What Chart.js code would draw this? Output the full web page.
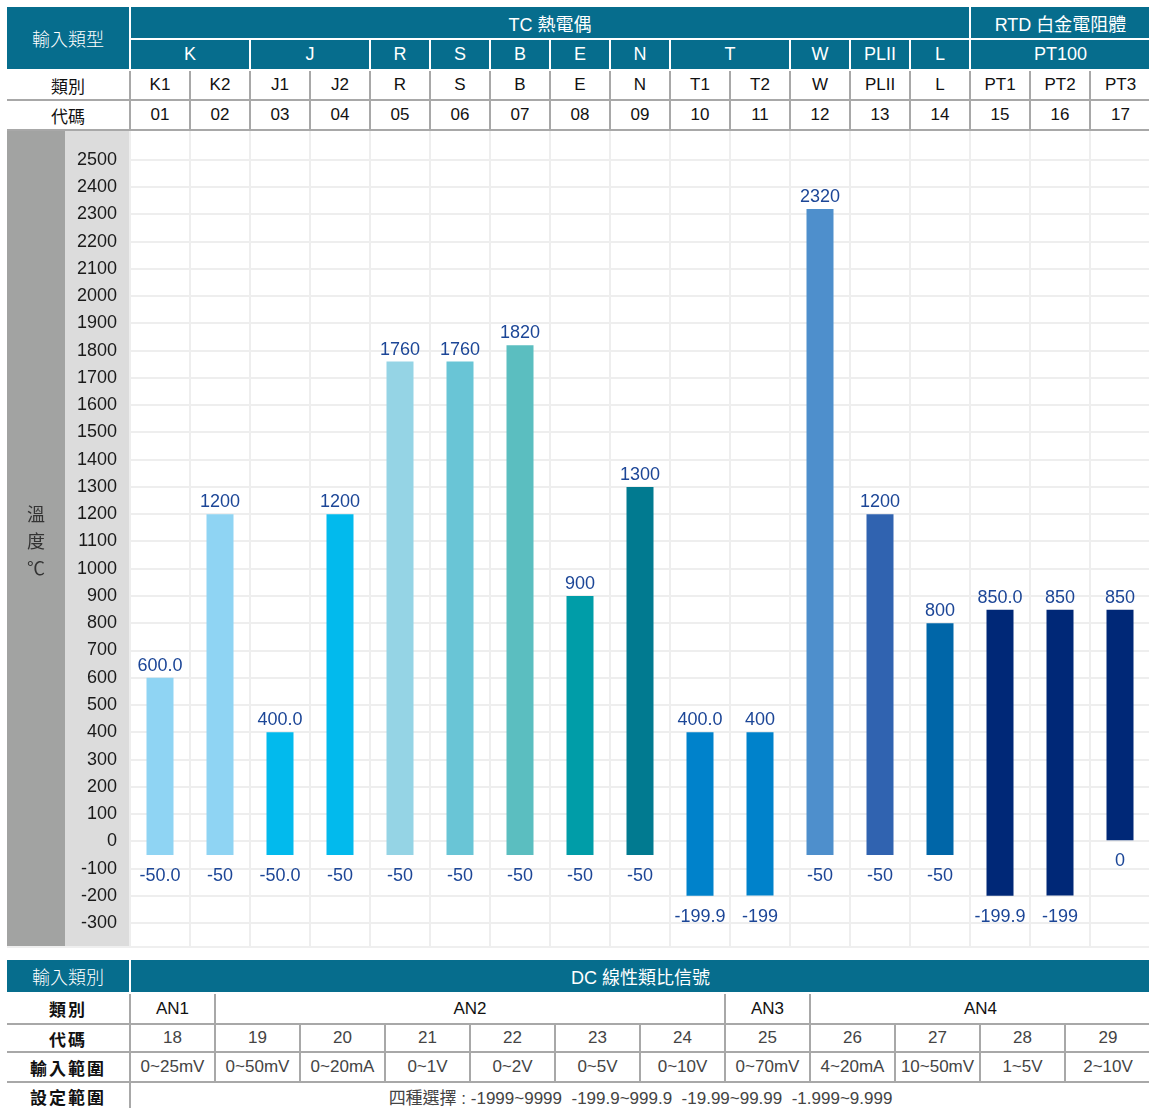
<!DOCTYPE html>
<html>
<head>
<meta charset="utf-8">
<script src="https://cdn.jsdelivr.net/npm/chart.js@4.4.1/dist/chart.umd.min.js"></script>
<style>
  body { margin: 0; background: #fff; font-family: "Liberation Sans", Arial, "Noto Sans CJK TC", sans-serif; }
  table { position: absolute; left: 7px; width: 1143px; border-collapse: collapse; table-layout: fixed; }
  td, th { padding: 0; text-align: center; font-weight: normal; white-space: nowrap; overflow: hidden; }
  .hd { background: #066d8d; color: #fff; border: 2px solid #fff; font-size: 18px; }
  .bd { border: 2px solid #a8a8a8; font-size: 17px; color: #111; }
  #top { top: 7px; }
  #top .hd { border-top: none; }
  #bottom { top: 960px; }
  #bottom .bd.gray { color: #444; }
  #bottom .lbl { font-weight: bold; color: #111; letter-spacing: 2px; }
  .thin { font-weight: 300; }
  #chartBox { position: absolute; left: 7px; top: 131px; width: 1143px; height: 815px; }
  #ytitle { position: absolute; left: 7px; width: 58px; top: 500px; text-align: center; font-size: 18px; line-height: 27px; color: #333; font-family: "Noto Sans CJK TC", sans-serif; }
  #sep { position: absolute; left: 7px; top: 946px; width: 1143px; height: 2px; background: #efefef; }
</style>
</head>
<body>
<table id="top">
  <colgroup><col style="width:123px"></colgroup>
  <tr style="height:32px">
    <th class="hd thin" rowspan="2" style="border-left:none">輸入類型</th>
    <th class="hd" colspan="14">TC 熱電偶</th>
    <th class="hd" colspan="3" style="border-right:none">RTD 白金電阻體</th>
  </tr>
  <tr style="height:31px" id="groupRow"></tr>
  <tr style="height:30px" id="typeRow"><td class="bd" style="border-left:none">類別</td></tr>
  <tr style="height:30px" id="codeRow"><td class="bd" style="border-left:none">代碼</td></tr>
</table>

<div id="chartBox"><canvas id="myChart"></canvas></div>
<div id="ytitle">溫<br>度<br>℃</div>
<div id="sep"></div>

<table id="bottom">
  <colgroup><col style="width:123px"></colgroup>
  <tr style="height:33px">
    <th class="hd thin" style="border-left:none;border-top:none">輸入類別</th>
    <th class="hd" colspan="12" style="border-right:none;border-top:none">DC 線性類比信號</th>
  </tr>
  <tr style="height:31px" id="dcTypeRow"><td class="bd lbl" style="border-left:none">類別</td></tr>
  <tr style="height:28px" id="dcCodeRow"><td class="bd lbl" style="border-left:none">代碼</td></tr>
  <tr style="height:30px" id="dcRangeRow"><td class="bd lbl" style="border-left:none">輸入範圍</td></tr>
  <tr style="height:28px">
    <td class="bd lbl" style="border-left:none;border-bottom:none">設定範圍</td>
    <td class="bd gray" colspan="12" style="border-right:none;border-bottom:none">四種選擇 : -1999~9999&nbsp;&nbsp;-199.9~999.9&nbsp;&nbsp;-19.99~99.99&nbsp;&nbsp;-1.999~9.999</td>
  </tr>
</table>

<script>
// thermocouple / RTD inputs
const groups = [["K", 2], ["J", 2], ["R", 1], ["S", 1], ["B", 1], ["E", 1], ["N", 1], ["T", 2], ["W", 1], ["PLII", 1], ["L", 1], ["PT100", 3]];
const categories = ["K1", "K2", "J1", "J2", "R", "S", "B", "E", "N", "T1", "T2", "W", "PLII", "L", "PT1", "PT2", "PT3"];
const codes = ["01", "02", "03", "04", "05", "06", "07", "08", "09", "10", "11", "12", "13", "14", "15", "16", "17"];
const minValues = [-50, -50, -50, -50, -50, -50, -50, -50, -50, -199.9, -199, -50, -50, -50, -199.9, -199, 0];
const maxValues = [600, 1200, 400, 1200, 1760, 1760, 1820, 900, 1300, 400, 400, 2320, 1200, 800, 850, 850, 850];
const minLabels = ["-50.0", "-50", "-50.0", "-50", "-50", "-50", "-50", "-50", "-50", "-199.9", "-199", "-50", "-50", "-50", "-199.9", "-199", "0"];
const maxLabels = ["600.0", "1200", "400.0", "1200", "1760", "1760", "1820", "900", "1300", "400.0", "400", "2320", "1200", "800", "850.0", "850", "850"];
const barColors = ["#8fd4f3", "#8fd4f3", "#02baed", "#02baed", "#95d4e5", "#69c5d6", "#5bbec0", "#009da8", "#017a90",
  "#0082cb", "#0082cb", "#4e8fcc", "#3063b0", "#0066a8", "#002877", "#002877", "#002877"];
const yTicks = [-300, -200, -100, 0, 100, 200, 300, 400, 500, 600, 700, 800, 900, 1000, 1100, 1200, 1300,
  1400, 1500, 1600, 1700, 1800, 1900, 2000, 2100, 2200, 2300, 2400, 2500];

// DC linear inputs
const dcGroups = [["AN1", 1], ["AN2", 6], ["AN3", 1], ["AN4", 4]];
const dcCodes = ["18", "19", "20", "21", "22", "23", "24", "25", "26", "27", "28", "29"];
const dcRanges = ["0~25mV", "0~50mV", "0~20mA", "0~1V", "0~2V", "0~5V", "0~10V", "0~70mV", "4~20mA", "10~50mV", "1~5V", "2~10V"];

function addCells(rowId, items, cls, lastNoRight) {
  const row = document.getElementById(rowId);
  items.forEach(function (it, i) {
    const td = document.createElement(cls.indexOf("hd") >= 0 ? "th" : "td");
    td.className = cls;
    if (Array.isArray(it)) { td.textContent = it[0]; td.colSpan = it[1]; } else { td.textContent = it; }
    if (lastNoRight && i === items.length - 1) td.style.borderRight = "none";
    row.appendChild(td);
  });
}
addCells("groupRow", groups, "hd", true);
addCells("typeRow", categories, "bd", true);
addCells("codeRow", codes, "bd", true);
addCells("dcTypeRow", dcGroups, "bd", true);
addCells("dcCodeRow", dcCodes, "bd gray", true);
addCells("dcRangeRow", dcRanges, "bd gray", true);

const bands = {
  id: "bands",
  beforeDraw: function (chart) {
    const c = chart.ctx;
    const a = chart.chartArea;
    c.save();
    c.fillStyle = "#a2a3a2";
    c.fillRect(0, 0, 58, chart.height);
    c.fillStyle = "#dcdcdc";
    c.fillRect(58, 0, a.left - 58, chart.height);
    c.restore();
  }
};

const endLabels = {
  id: "endLabels",
  afterDatasetsDraw: function (chart) {
    const c = chart.ctx;
    const meta = chart.getDatasetMeta(0);
    c.save();
    c.font = "18px 'Liberation Sans', Arial, sans-serif";
    c.fillStyle = "#1c4697";
    c.textAlign = "center";
    meta.data.forEach(function (bar, i) {
      const top = Math.min(bar.y, bar.base);
      const bottom = Math.max(bar.y, bar.base);
      c.textBaseline = "alphabetic";
      c.fillText(maxLabels[i], bar.x, top - 7);
      c.textBaseline = "top";
      c.fillText(minLabels[i], bar.x, bottom + 12);
    });
    c.restore();
  }
};

function noPad(s) {
  s.paddingTop = 0;
  s.paddingBottom = 0;
  s.paddingLeft = 0;
  s.paddingRight = 0;
}

const ctx = document.getElementById("myChart");

var chart = new Chart(ctx, {
  type: "bar",
  data: {
    labels: categories,
    datasets: [
      {
        data: minValues.map(function (v, i) { return [v, maxValues[i]]; }),
        backgroundColor: barColors,
        borderWidth: 0,
        categoryPercentage: 1,
        barPercentage: 0.45,
      },
    ],
  },
  options: {
    responsive: true,
    maintainAspectRatio: false,
    animation: false,
    layout: { padding: 0 },
    plugins: { legend: { display: false }, tooltip: { enabled: false } },
    scales: {
      x: {
        grid: { color: "#eeeeee", lineWidth: 2, drawTicks: false, offset: true },
        border: { display: false },
        ticks: { display: false },
        afterFit: function (s) { s.height = 0; noPad(s); },
      },
      y: {
        min: -384,
        max: 2606,
        afterBuildTicks: function (s) { s.ticks = yTicks.map(function (v) { return { value: v }; }); },
        grid: { color: "#eeeeee", lineWidth: 2, drawTicks: false },
        border: { display: false },
        ticks: {
          color: "#1a1a1a",
          padding: 13,
          font: { family: "'Liberation Sans', Arial, sans-serif", size: 18 },
          callback: function (v) { return String(v); },
        },
        afterFit: function (s) { s.width = 123; noPad(s); },
      },
    },
  },
  plugins: [bands, endLabels],
});
</script>
</body>
</html>
